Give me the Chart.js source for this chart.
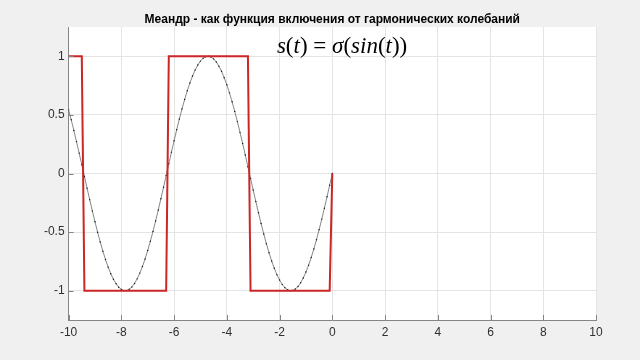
<!DOCTYPE html>
<html>
<head>
<meta charset="utf-8">
<title>Меандр</title>
<script src="https://cdn.jsdelivr.net/npm/chart.js@4.4.0/dist/chart.umd.min.js"></script>
<style>
  html, body { margin: 0; padding: 0; background: #f0f0f0; }
  #wrap { width: 640px; height: 360px; }
</style>
</head>
<body>
<div id="wrap"><canvas id="mainChart" width="640" height="360"></canvas></div>
<script>
// t samples, step 0.1
const tValues = [
  -10, -9.9, -9.8, -9.7, -9.6, -9.5, -9.4, -9.3, -9.2, -9.1,
  -9, -8.9, -8.8, -8.7, -8.6, -8.5, -8.4, -8.3, -8.2, -8.1,
  -8, -7.9, -7.8, -7.7, -7.6, -7.5, -7.4, -7.3, -7.2, -7.1,
  -7, -6.9, -6.8, -6.7, -6.6, -6.5, -6.4, -6.3, -6.2, -6.1,
  -6, -5.9, -5.8, -5.7, -5.6, -5.5, -5.4, -5.3, -5.2, -5.1,
  -5, -4.9, -4.8, -4.7, -4.6, -4.5, -4.4, -4.3, -4.2, -4.1,
  -4, -3.9, -3.8, -3.7, -3.6, -3.5, -3.4, -3.3, -3.2, -3.1,
  -3, -2.9, -2.8, -2.7, -2.6, -2.5, -2.4, -2.3, -2.2, -2.1,
  -2, -1.9, -1.8, -1.7, -1.6, -1.5, -1.4, -1.3, -1.2, -1.1,
  -1, -0.9, -0.8, -0.7, -0.6, -0.5, -0.4, -0.3, -0.2, -0.1,
  0
];

// harmonic (black dotted line)
const sineValues = [
  0.544, 0.458, 0.367, 0.272, 0.174, 0.075, -0.025, -0.125, -0.223, -0.319,
  -0.412, -0.501, -0.585, -0.663, -0.734, -0.799, -0.855, -0.902, -0.941, -0.970,
  -0.989, -0.999, -0.999, -0.988, -0.968, -0.938, -0.899, -0.850, -0.794, -0.729,
  -0.657, -0.578, -0.494, -0.405, -0.312, -0.215, -0.117, -0.017, 0.083, 0.182,
  0.279, 0.374, 0.465, 0.551, 0.631, 0.706, 0.773, 0.832, 0.884, 0.926,
  0.959, 0.983, 0.996, 1.000, 0.994, 0.978, 0.952, 0.916, 0.872, 0.818,
  0.757, 0.688, 0.612, 0.530, 0.443, 0.351, 0.256, 0.158, 0.058, -0.042,
  -0.141, -0.239, -0.335, -0.427, -0.516, -0.599, -0.676, -0.746, -0.809, -0.863,
  -0.909, -0.946, -0.974, -0.992, -1.000, -0.997, -0.985, -0.964, -0.932, -0.891,
  -0.841, -0.783, -0.717, -0.644, -0.565, -0.479, -0.389, -0.296, -0.199, -0.100,
  0
];

// meander (red)
const meanderValues = [
  1, 1, 1, 1, 1, 1, -1, -1, -1, -1,
  -1, -1, -1, -1, -1, -1, -1, -1, -1, -1,
  -1, -1, -1, -1, -1, -1, -1, -1, -1, -1,
  -1, -1, -1, -1, -1, -1, -1, -1, 1, 1,
  1, 1, 1, 1, 1, 1, 1, 1, 1, 1,
  1, 1, 1, 1, 1, 1, 1, 1, 1, 1,
  1, 1, 1, 1, 1, 1, 1, 1, 1, -1,
  -1, -1, -1, -1, -1, -1, -1, -1, -1, -1,
  -1, -1, -1, -1, -1, -1, -1, -1, -1, -1,
  -1, -1, -1, -1, -1, -1, -1, -1, -1, -1,
  0
];

const xTicks = [-10, -8, -6, -4, -2, 0, 2, 4, 6, 8, 10];
const yTicks = [-1, -0.5, 0, 0.5, 1];

const titleText = 'Меандр - как функция включения от гармонических колебаний';
const formulaParts = [
  ['s', true], ['(', false], ['t', true], [')', false], [' = ', false],
  ['σ', true], ['(', false], ['sin', true], ['(', false], ['t', true], ['))', false]
];
const formulaAt = [-2.1, 1.08];

const axisColor = '#858585';
const labelColor = '#303030';
const tickFont = { family: 'Liberation Sans', size: 12 };

const plotBackground = {
  id: 'plotBackground',
  beforeDraw(chart) {
    const { ctx, chartArea: a } = chart;
    ctx.save();
    ctx.fillStyle = '#f0f0f0';
    ctx.fillRect(0, 0, chart.width, chart.height);
    ctx.fillStyle = '#ffffff';
    ctx.fillRect(a.left, a.top, a.right - a.left, a.bottom - a.top);
    ctx.restore();
  }
};

// matlab style ticks pointing inside the axes
const innerTicks = {
  id: 'innerTicks',
  afterDatasetsDraw(chart) {
    const { ctx, chartArea: a, scales } = chart;
    ctx.save();
    ctx.strokeStyle = axisColor;
    ctx.lineWidth = 1;
    ctx.beginPath();
    scales.x.ticks.forEach(t => {
      const px = Math.round(scales.x.getPixelForValue(t.value)) + 0.5;
      ctx.moveTo(px, a.bottom);
      ctx.lineTo(px, a.bottom - 5);
    });
    scales.y.ticks.forEach(t => {
      const py = Math.round(scales.y.getPixelForValue(t.value)) + 0.5;
      ctx.moveTo(a.left, py);
      ctx.lineTo(a.left + 5, py);
    });
    ctx.stroke();
    ctx.restore();
  }
};

const formula = {
  id: 'formula',
  afterDatasetsDraw(chart) {
    const ctx = chart.ctx;
    let x = chart.scales.x.getPixelForValue(formulaAt[0]);
    const y = chart.scales.y.getPixelForValue(formulaAt[1]);
    ctx.save();
    ctx.fillStyle = '#000';
    ctx.textAlign = 'left';
    ctx.textBaseline = 'middle';
    formulaParts.forEach(([txt, italic]) => {
      ctx.font = (italic ? 'italic ' : '') + '23px "Liberation Serif"';
      ctx.fillText(txt, x, y);
      x += ctx.measureText(txt).width;
    });
    ctx.restore();
  }
};

const ctxMain = document.getElementById('mainChart').getContext('2d');

const mainChart = new Chart(ctxMain, {
  type: 'line',
  data: {
    datasets: [{
      label: 's(t)',
      data: tValues.map((t, i) => ({ x: t, y: meanderValues[i] })),
      borderColor: '#cc2626',
      borderWidth: 2,
      pointRadius: 0,
      tension: 0
    }, {
      label: 'sin(t)',
      data: tValues.map((t, i) => ({ x: t, y: sineValues[i] })),
      borderColor: '#555555',
      borderWidth: 0.7,
      pointRadius: 0.7,
      pointBorderWidth: 0,
      pointBackgroundColor: '#111111',
      tension: 0
    }]
  },
  options: {
    responsive: false,
    animation: false,
    devicePixelRatio: 1,
    layout: { padding: { left: 0, right: 44, top: 0, bottom: 0 } },
    plugins: {
      legend: { display: false },
      tooltip: { enabled: false },
      title: {
        display: true,
        fullSize: false,
        text: titleText,
        color: '#000000',
        font: { family: 'Liberation Sans', size: 12, weight: 'bold', lineHeight: 1.2 },
        padding: { top: 12, bottom: 0.6 }
      }
    },
    scales: {
      x: {
        type: 'linear',
        min: -10,
        max: 10,
        afterBuildTicks: s => { s.ticks = xTicks.map(v => ({ value: v })); },
        afterFit: s => { s.height = 40; },
        ticks: {
          color: labelColor,
          font: tickFont,
          padding: 5,
          maxRotation: 0,
          autoSkip: false,
          callback: v => String(v)
        },
        grid: { color: '#e4e4e4', drawTicks: false },
        border: { color: axisColor, width: 1 }
      },
      y: {
        min: -1.25,
        max: 1.25,
        afterBuildTicks: s => { s.ticks = yTicks.map(v => ({ value: v })); },
        afterFit: s => { s.width = 68.6; },
        ticks: {
          color: labelColor,
          font: tickFont,
          padding: 4,
          callback: v => String(v)
        },
        grid: { color: '#e4e4e4', drawTicks: false },
        border: { color: axisColor, width: 1 }
      }
    }
  },
  plugins: [plotBackground, innerTicks, formula]
});
</script>
</body>
</html>
